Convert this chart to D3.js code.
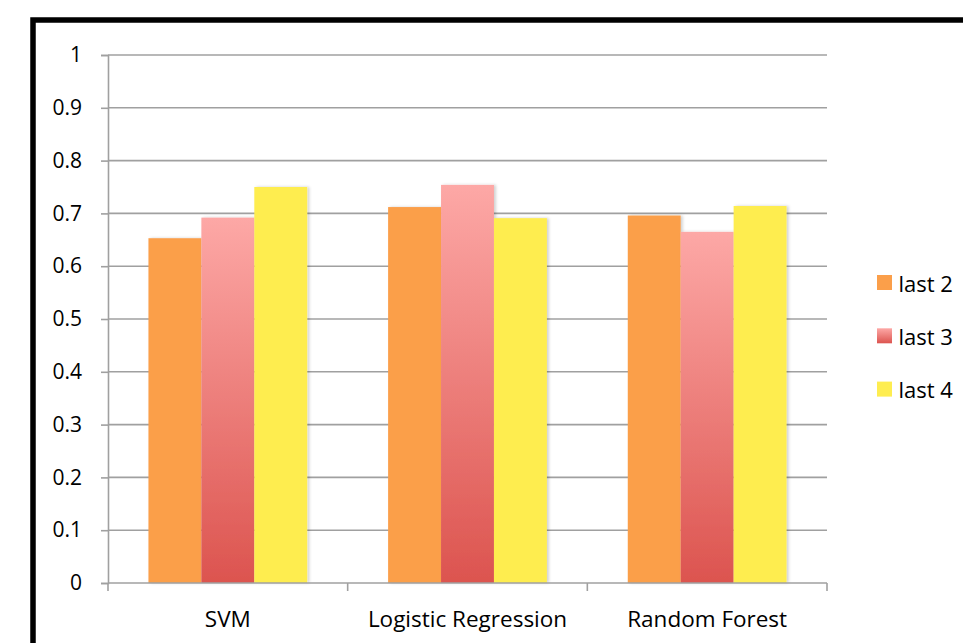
<!DOCTYPE html>
<html>
<head>
<meta charset="utf-8">
<script src="https://cdn.jsdelivr.net/npm/d3@7"></script>
<style>
  html, body { margin: 0; padding: 0; background: #fff; overflow: hidden; }
  svg { display: block; }
  text { font-family: "Open Sans", Lato, "Liberation Sans", sans-serif; fill: #000; }
</style>
</head>
<body>
<svg id="chart" width="963" height="643"></svg>
<script>
// Accuracy by model for different history windows
const categories = ["SVM", "Logistic Regression", "Random Forest"];
const seriesNames = ["last 2", "last 3", "last 4"];
const last2 = [0.653, 0.712, 0.696];
const last3 = [0.692, 0.754, 0.665];
const last4 = [0.750, 0.691, 0.714];
const yTicks = [0, 0.1, 0.2, 0.3, 0.4, 0.5, 0.6, 0.7, 0.8, 0.9, 1];

const seriesValues = [last2, last3, last4];

const svg = d3.select("#chart");
const W = 963, H = 643;
const plot = { left: 108, right: 827, top: 55, bottom: 583 };
const FONT = "'Open Sans', Lato, sans-serif";

// frame around the chart area
svg.append("rect")
  .attr("x", 33).attr("y", 20)
  .attr("width", W + 20).attr("height", H + 20)
  .attr("fill", "none").attr("stroke", "#000").attr("stroke-width", 5.5);

const defs = svg.append("defs");
const grad = defs.append("linearGradient")
  .attr("id", "pinkGrad").attr("x1", 0).attr("y1", 0).attr("x2", 0).attr("y2", 1);
grad.append("stop").attr("offset", "0%").attr("stop-color", "#fda8a6");
grad.append("stop").attr("offset", "100%").attr("stop-color", "#dc544f");

const shadow = defs.append("filter").attr("id", "barShadow")
  .attr("x", "-20%").attr("y", "-5%").attr("width", "140%").attr("height", "110%");
shadow.append("feDropShadow")
  .attr("dx", 2).attr("dy", 0).attr("stdDeviation", 1.8)
  .attr("flood-color", "#000").attr("flood-opacity", 0.18);

const fills = ["#fb9f4a", "url(#pinkGrad)", "#feed50"];

const x0 = d3.scaleBand().domain(categories)
  .range([plot.left, plot.right]).paddingInner(0).paddingOuter(0);
const innerPad = 40.5 / 240;
const x1 = d3.scaleBand().domain(seriesNames)
  .range([x0.bandwidth() * innerPad, x0.bandwidth() * (1 - innerPad)]).padding(0);
const y = d3.scaleLinear().domain([0, 1]).range([plot.bottom, plot.top]);

// horizontal gridlines
svg.append("g").selectAll("line").data(yTicks.filter(d => d > 0)).join("line")
  .attr("x1", plot.left).attr("x2", plot.right)
  .attr("y1", d => y(d)).attr("y2", d => y(d))
  .attr("stroke", "#a0a0a0").attr("stroke-width", 1.6);

// y axis
const yAxis = svg.append("g").attr("transform", `translate(${plot.left},0)`)
  .call(d3.axisLeft(y).tickValues(yTicks).tickSize(7).tickPadding(19)
    .tickFormat(d => d3.format("")(+d.toFixed(1))));
yAxis.select(".domain").attr("stroke", "#a0a0a0").attr("stroke-width", 1.6);
yAxis.selectAll(".tick line").attr("stroke", "#a0a0a0").attr("stroke-width", 1.6);
yAxis.selectAll(".tick text").attr("font-size", 21)
  .attr("font-family", FONT).attr("fill", "#000");

// bars
const groups = svg.append("g").selectAll("g").data(categories).join("g")
  .attr("transform", d => `translate(${x0(d)},0)`);
groups.selectAll("rect")
  .data((c, i) => seriesNames.map((s, j) => ({ s, j, v: seriesValues[j][i] })))
  .join("rect")
  .attr("x", d => x1(d.s))
  .attr("y", d => y(d.v))
  .attr("width", x1.bandwidth())
  .attr("height", d => y(0) - y(d.v))
  .attr("fill", d => fills[d.j])
  .attr("filter", "url(#barShadow)");

// x axis with boundary ticks between categories
const xAxisG = svg.append("g").attr("transform", `translate(0,${plot.bottom})`);
xAxisG.append("line")
  .attr("x1", plot.left).attr("x2", plot.right)
  .attr("stroke", "#a0a0a0").attr("stroke-width", 1.6);
const bounds = categories.map(c => x0(c)).concat([x0(categories[categories.length - 1]) + x0.bandwidth()]);
xAxisG.selectAll("line.b").data(bounds).join("line").attr("class", "b")
  .attr("x1", d => d).attr("x2", d => d).attr("y1", 0).attr("y2", 8)
  .attr("stroke", "#a0a0a0").attr("stroke-width", 1.6);
xAxisG.selectAll("text").data(categories).join("text")
  .attr("x", d => x0(d) + x0.bandwidth() / 2)
  .attr("y", 43.5)
  .attr("text-anchor", "middle")
  .attr("font-size", 22.5)
  .text(d => d);

// legend
const legend = svg.append("g").attr("transform", "translate(877,275)");
const items = legend.selectAll("g").data(seriesNames).join("g")
  .attr("transform", (d, i) => `translate(0,${i * 53.3})`);
items.append("rect")
  .attr("width", 15).attr("height", 15)
  .attr("fill", (d, i) => fills[i]);
items.append("text")
  .attr("x", 21.5).attr("y", 16.5)
  .attr("font-size", 22)
  .text(d => d);
</script>
</body>
</html>
